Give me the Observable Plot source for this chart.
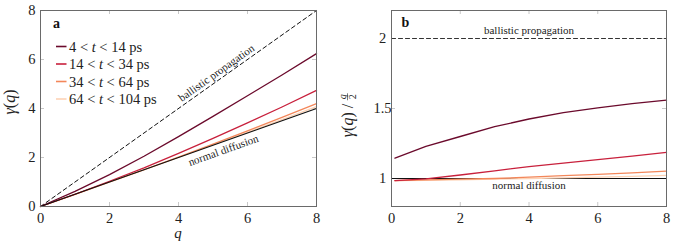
<!DOCTYPE html>
<html>
<head>
<meta charset="utf-8">
<script src="https://cdn.jsdelivr.net/npm/d3@7"></script>
<script src="https://cdn.jsdelivr.net/npm/@observablehq/plot@0.6"></script>
<style>
  html, body { margin: 0; padding: 0; background: #fff; }
  #wrap { display: flex; flex-direction: row; width: 675px; height: 246px; }
  svg, svg text { font-family: "Liberation Serif", "DejaVu Serif", serif !important; }
  svg g[aria-label="x-axis tick label"], svg g[aria-label="y-axis tick label"],
  svg g[aria-label="x-axis tick label"] text, svg g[aria-label="y-axis tick label"] text { font-size: 14.5px !important; }
</style>
</head>
<body>
<div id="wrap"></div>
<script>
// ---------------- data ----------------
const seriesNames = [
  {lo: 4,  hi: 14},
  {lo: 14, hi: 34},
  {lo: 34, hi: 64},
  {lo: 64, hi: 104}
];
const seriesColors = ["#6b0a2c", "#c8203c", "#f3875a", "#fdd3b6"];

// panel a: gamma(q)
const qA = [0, 1, 2, 3, 4, 5, 6, 7, 8];
const gammaT1 = [0, 0.62, 1.30, 2.05, 2.85, 3.68, 4.52, 5.37, 6.24];
const gammaT2 = [0, 0.50, 1.03, 1.58, 2.17, 2.78, 3.41, 4.06, 4.74];
const gammaT3 = [0, 0.495, 1.00, 1.50, 2.02, 2.55, 3.09, 3.64, 4.20];
const gammaT4 = [0, 0.495, 0.99, 1.49, 2.00, 2.52, 3.03, 3.55, 4.08];

// panel b: gamma(q) / (q/2)
const qB = [0.1, 1, 2, 3, 4, 5, 6, 7, 8];
const ratioT1 = [1.145, 1.23, 1.30, 1.37, 1.425, 1.47, 1.505, 1.535, 1.56];
const ratioT2 = [0.985, 0.998, 1.025, 1.055, 1.085, 1.11, 1.135, 1.16, 1.186];
const ratioT3 = [0.985, 0.99, 0.995, 1.0, 1.01, 1.02, 1.03, 1.04, 1.052];
const ratioT4 = [0.985, 0.987, 0.99, 0.995, 1.0, 1.005, 1.01, 1.015, 1.022];

// reference lines
const refQ = [0, 8];
const ballisticA = [0, 8];
const diffusionA = [0, 4];
const refQB = [0, 8];
const ballisticB = [2, 2];
const diffusionB = [1, 1];

// ticks
const xTicks = [0, 2, 4, 6, 8];
const yTicksA = [0, 2, 4, 6, 8];
const yTicksB = [1, 1.5, 2];

// annotations
const annotA = [
  {q: 5.1, v: 5.45, text: "ballistic propagation", angle: -35.4},
  {q: 5.3, v: 2.29, text: "normal diffusion", angle: -19.6}
];
const annotB = [
  {q: 4, v: 2.055, text: "ballistic propagation", angle: 0},
  {q: 4, v: 0.953, text: "normal diffusion", angle: 0}
];

// ---------------- helpers ----------------
const rows = (xs, ys) => xs.map((x, i) => ({x, y: ys[i]}));
const tickColor = "#c8c8c8";
const frameColor = "#6a6a6a";
const serif = "Liberation Serif";
const tickFont = 14.5;
const annFont = 11;

function frameTicks(xt, yt, ph, pw) {
  const len = 4;
  return [
    Plot.ruleX(xt, {x: d => d, insetTop: ph - len, stroke: tickColor}),
    Plot.ruleX(xt, {x: d => d, insetBottom: ph - len, stroke: tickColor}),
    Plot.ruleY(yt, {y: d => d, insetRight: pw - len, stroke: tickColor}),
    Plot.ruleY(yt, {y: d => d, insetLeft: pw - len, stroke: tickColor})
  ];
}

// ---------------- panel a ----------------
const WA = 340, HA = 246, mlA = 40, mrA = 24, mtA = 10, mbA = 40;
const phA = HA - mtA - mbA, pwA = WA - mlA - mrA;
const seriesA = [gammaT1, gammaT2, gammaT3, gammaT4];

const plotA = Plot.plot({
  width: WA, height: HA,
  marginLeft: mlA, marginRight: mrA, marginTop: mtA, marginBottom: mbA,
  style: {fontFamily: serif, fontSize: tickFont + "px", background: "#fff", overflow: "visible"},
  x: {domain: [0, 8]},
  y: {domain: [0, 8]},
  marks: [
    ...frameTicks(xTicks, yTicksA, phA, pwA),
    Plot.axisX({ticks: xTicks, tickSize: 0, tickPadding: 6, label: null, fontSize: tickFont, fill: "#222"}),
    Plot.axisY({ticks: yTicksA, tickSize: 0, tickPadding: 5, label: null, fontSize: tickFont, fill: "#222"}),
    Plot.line(rows(refQ, ballisticA), {x: "x", y: "y", stroke: "#111", strokeWidth: 1, strokeDasharray: "4,3"}),
    ...seriesA.slice().reverse().map((s, i) =>
      Plot.line(rows(qA, s), {x: "x", y: "y", stroke: seriesColors[3 - i], strokeWidth: 1.3})),
    Plot.line(rows(refQ, diffusionA), {x: "x", y: "y", stroke: "#111", strokeWidth: 1.1}),
    Plot.text(annotA, {x: "q", y: "v", text: "text", rotate: "angle", fontSize: annFont, fill: "#222"}),
    Plot.frame({stroke: frameColor, strokeWidth: 1})
  ]
});

// ---------------- panel b ----------------
const WB = 335, HB = 246, mlB = 51, mrB = 9, mtB = 10, mbB = 40;
const phB = HB - mtB - mbB, pwB = WB - mlB - mrB;
const seriesB = [ratioT1, ratioT2, ratioT3, ratioT4];

const plotB = Plot.plot({
  width: WB, height: HB,
  marginLeft: mlB, marginRight: mrB, marginTop: mtB, marginBottom: mbB,
  style: {fontFamily: serif, fontSize: tickFont + "px", background: "#fff", overflow: "visible"},
  x: {domain: [0, 8]},
  y: {domain: [0.8, 2.2]},
  marks: [
    ...frameTicks(xTicks, yTicksB, phB, pwB),
    Plot.axisX({ticks: xTicks, tickSize: 0, tickPadding: 6, label: null, fontSize: tickFont, fill: "#222"}),
    Plot.axisY({ticks: yTicksB, tickSize: 0, tickPadding: 9, textAnchor: "middle", tickFormat: d => String(d), label: null, fontSize: tickFont, fill: "#222"}),
    Plot.line(rows(refQB, ballisticB), {x: "x", y: "y", stroke: "#333", strokeWidth: 1.1, strokeDasharray: "4,3"}),
    Plot.line(rows(refQB, diffusionB), {x: "x", y: "y", stroke: "#111", strokeWidth: 1.1}),
    ...seriesB.slice().reverse().map((s, i) =>
      Plot.line(rows(qB, s), {x: "x", y: "y", stroke: seriesColors[3 - i], strokeWidth: 1.3})),
    Plot.text(annotB, {x: "q", y: "v", text: "text", rotate: "angle", fontSize: annFont, fill: "#222"}),
    Plot.frame({stroke: frameColor, strokeWidth: 1})
  ]
});

const wrap = document.getElementById("wrap");
wrap.appendChild(plotA);
wrap.appendChild(plotB);

// ---------------- extra text (labels, legend) ----------------
const sA = d3.select(plotA);
const sB = d3.select(plotB);

// panel letters
sA.append("text").attr("x", 53).attr("y", 27.5).attr("text-anchor", "start").attr("font-family", serif)
  .attr("font-size", 14).attr("font-weight", "bold").attr("fill", "#111").text("a");
sB.append("text").attr("x", 61.5).attr("y", 26.7).attr("text-anchor", "start").attr("font-family", serif)
  .attr("font-size", 14).attr("font-weight", "bold").attr("fill", "#111").text("b");

// x label panel a
sA.append("text").attr("x", 178).attr("y", 238).attr("text-anchor", "middle")
  .attr("font-family", serif).attr("font-size", 15).attr("font-style", "italic").attr("fill", "#222").text("q");

// y label panel a: γ(q)
{
  const t = sA.append("text").attr("transform", "translate(15,102) rotate(-90)")
    .attr("text-anchor", "middle").attr("font-family", serif).attr("font-size", 16).attr("fill", "#222");
  t.append("tspan").attr("font-style", "italic").text("γ");
  t.append("tspan").text("(");
  t.append("tspan").attr("font-style", "italic").text("q");
  t.append("tspan").text(")");
}

// y label panel b: γ(q) / (q over 2)
{
  const g = sB.append("g").attr("font-family", serif).attr("fill", "#222");
  const t = g.append("text").attr("x", 0).attr("text-anchor", "start").attr("font-size", 16);
  t.append("tspan").attr("font-style", "italic").text("γ");
  t.append("tspan").text("(");
  t.append("tspan").attr("font-style", "italic").text("q");
  t.append("tspan").text(")");
  t.append("tspan").text(" / ");
  const mainLen = t.node().getComputedTextLength();
  const fx = mainLen + 3;
  g.append("text").attr("x", fx).attr("y", -7).attr("text-anchor", "middle")
    .attr("font-size", 10).attr("font-style", "italic").text("q");
  g.append("line").attr("x1", fx - 3.5).attr("x2", fx + 3.5).attr("y1", -5.5).attr("y2", -5.5)
    .attr("stroke", "#222").attr("stroke-width", 0.6);
  g.append("text").attr("x", fx).attr("y", 2.5).attr("text-anchor", "middle")
    .attr("font-size", 10).text("2");
  const total = fx + 4;
  g.attr("transform", `translate(13,${115 + total / 2}) rotate(-90)`);
}

// legend panel a
{
  const lg = sA.append("g").attr("font-family", serif).attr("font-size", tickFont).attr("fill", "#222");
  seriesNames.forEach((s, i) => {
    const y = 46.5 + i * 17.5;
    lg.append("line").attr("x1", 56).attr("x2", 66.5).attr("y1", y).attr("y2", y)
      .attr("stroke", seriesColors[i]).attr("stroke-width", 1.6);
    const t = lg.append("text").attr("x", 69).attr("y", y).attr("dy", "0.35em").attr("text-anchor", "start");
    t.append("tspan").text(`${s.lo} < `);
    t.append("tspan").attr("font-style", "italic").text("t");
    t.append("tspan").text(` < ${s.hi} ps`);
  });
}
</script>
</body>
</html>
